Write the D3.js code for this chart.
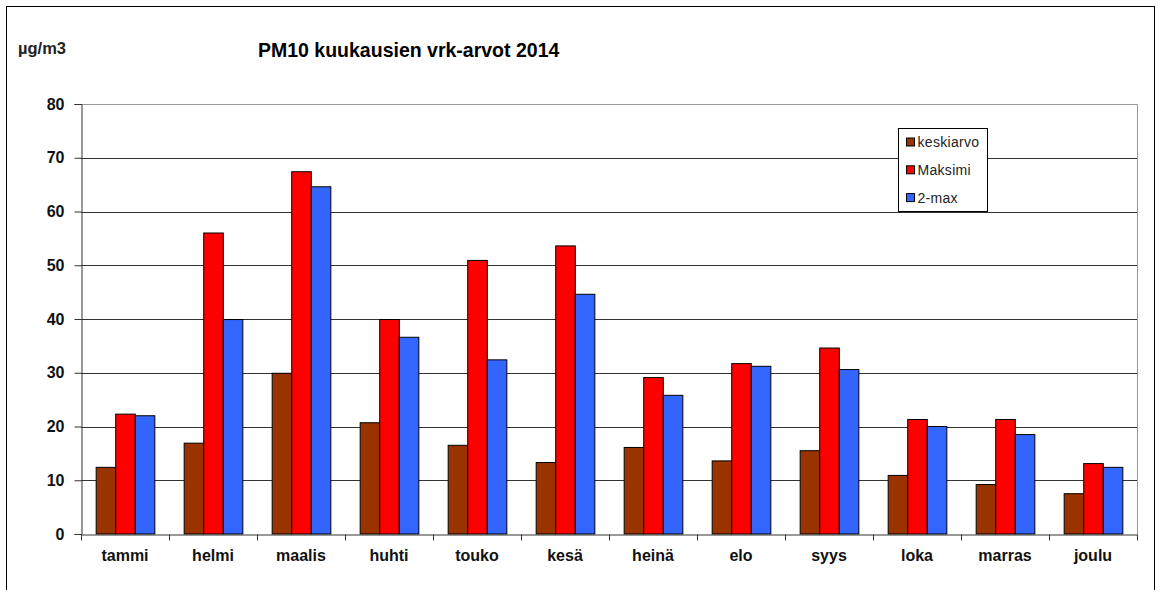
<!DOCTYPE html>
<html>
<head>
<meta charset="utf-8">
<script src="https://cdn.jsdelivr.net/npm/d3@7"></script>
<style>
body{margin:0;background:#fff;}
text{font-family:Arial,"Liberation Sans",sans-serif;}
</style>
</head>
<body>
<script>
// kuukaudet + sarjat
var months = ['tammi','helmi','maalis','huhti','touko','kesä','heinä','elo','syys','loka','marras','joulu'];
var keskiarvo = [12.4,16.9,29.9,20.7,16.5,13.3,16.1,13.6,15.5,10.9,9.2,7.5];
var maksimi  = [22.3,56.0,67.4,39.9,50.9,53.6,29.1,31.7,34.6,21.3,21.3,13.1];
var max2     = [22.0,39.9,64.6,36.6,32.4,44.6,25.8,31.2,30.6,20.0,18.5,12.4];
var seriesNames = ['keskiarvo','Maksimi','2-max'];
var colors = ['#993300','#ff0000','#3366ff'];
var yTicks = [0,10,20,30,40,50,60,70,80];

var W = 1162, H = 590;
var margin = {left:81,right:25,top:104,bottom:56}; // plot area

var svg = d3.select("body").append("svg").attr("width",W).attr("height",H);

// outer frame
svg.append("rect").attr("x",6.5).attr("y",6.5).attr("width",1148).attr("height",600)
    .attr("fill","none").attr("stroke","#000").attr("stroke-width",1);

var pw = W - margin.left - margin.right, ph = H - margin.top - margin.bottom;

var x = d3.scaleBand().domain(months).range([0,pw]).paddingInner(0).paddingOuter(0);
// gap width 150% -> 0.75 bar width on each side
var xs = d3.scaleBand().domain(seriesNames).range([0,x.bandwidth()]).paddingInner(0).paddingOuter(0.75);
var y = d3.scaleLinear().domain([0,80]).range([ph,0]);

var g = svg.append("g").attr("transform","translate("+margin.left+","+margin.top+")");

// plot border (top/right grey)
g.append("path").attr("d","M0,0.5H"+(pw+0.5)+"V"+ph).attr("fill","none").attr("stroke","#9a9a9a");

// gridlines
g.selectAll(".grid").data(yTicks.filter(function(d){return d>0 && d<80;})).enter()
  .append("line").attr("x1",0).attr("x2",pw)
  .attr("y1",function(d){return Math.round(y(d))+0.5;}).attr("y2",function(d){return Math.round(y(d))+0.5;})
  .attr("stroke","#333").attr("stroke-width",1);

var data = [keskiarvo,maksimi,max2];
months.forEach(function(m,i){
  seriesNames.forEach(function(s,j){
    g.append("rect")
      .attr("x",x(m)+xs(s)+0.5)
      .attr("y",y(data[j][i]))
      .attr("width",xs.bandwidth())
      .attr("height",ph - y(data[j][i]))
      .attr("fill",colors[j]).attr("stroke","#000").attr("stroke-width",1);
  });
});

// y axis
var yAxis = d3.axisLeft(y).tickValues(yTicks).tickSize(7).tickPadding(10);
var ya = g.append("g").attr("transform","translate(0.5,0)").call(yAxis);
ya.select(".domain").attr("stroke","#333");
ya.selectAll(".tick line").attr("stroke","#333");
ya.selectAll("text").attr("font-size","16px").attr("font-weight","bold").attr("fill","#111").attr("font-family","Arial,Liberation Sans,sans-serif");

// x axis
var xAxis = d3.axisBottom(x).tickSize(0).tickPadding(15);
var xa = g.append("g").attr("transform","translate(0,"+(ph+0.5)+")").call(xAxis);
xa.select(".domain").attr("stroke","#333");
xa.selectAll("text").attr("font-size","16px").attr("font-weight","bold").attr("fill","#111").attr("font-family","Arial,Liberation Sans,sans-serif");
// category separators
xa.selectAll(".sep").data(months.concat(["end"])).enter().append("line")
  .attr("x1",function(d,i){return Math.round(i*x.step())+0.5;})
  .attr("x2",function(d,i){return Math.round(i*x.step())+0.5;})
  .attr("y1",0).attr("y2",6).attr("stroke","#333");

// title + unit
svg.append("text").attr("x",258).attr("y",57).attr("font-size","19.5px").attr("font-weight","bold").attr("fill","#000")
  .text("PM10 kuukausien vrk-arvot 2014");
svg.append("text").attr("x",18).attr("y",54).attr("font-size","16.5px").attr("font-weight","bold").attr("fill","#222")
  .text("µg/m3");

// legend
var lg = svg.append("g").attr("transform","translate(898.5,128.5)");
lg.append("rect").attr("width",89).attr("height",83).attr("fill","#fff").attr("stroke","#000");
seriesNames.forEach(function(s,j){
  var cy = 13.5 + j*27.8;
  lg.append("rect").attr("x",8).attr("y",cy-4).attr("width",8).attr("height",8)
    .attr("fill",colors[j]).attr("stroke","#000");
  lg.append("text").attr("x",19).attr("y",cy+5).attr("font-size","14px").attr("letter-spacing","0.3px").attr("fill","#222").text(s);
});
</script>
</body>
</html>
